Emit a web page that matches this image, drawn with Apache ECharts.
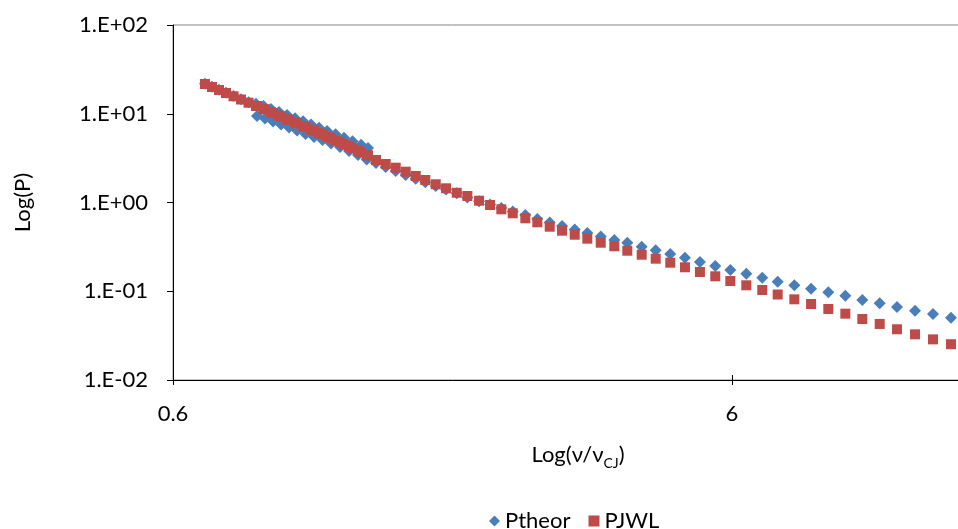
<!DOCTYPE html>
<html>
<head>
<meta charset="utf-8">
<script src="https://cdn.jsdelivr.net/npm/echarts@6/dist/echarts.min.js"></script>
<style>
html,body{margin:0;padding:0;background:#fff;overflow:hidden;width:958px;height:529px;}
#chart{width:1400px;height:529px;}
</style>
</head>
<body>
<div id="chart"></div>
<script>
// Set A (first branch of the table)
var vA = [0.6845,0.7045,0.7252,0.7464,0.7699,0.7940,0.8190,0.8446,0.8711,0.8985,0.9286,0.9598,0.9920,1.0252,1.0596,1.0951,1.1317,1.1720,1.2137,1.2569,1.3018,1.3398];
var ptheorA = [21.75,20.15,18.65,17.25,15.85,14.6,13.5,13.0,12.23,11.31,10.46,9.681,8.887,8.220,7.566,6.964,6.392,5.868,5.359,4.893,4.468,4.113];
var pjwlA = [21.64,20.02,18.52,17.13,15.73,14.47,13.32,12.23,11.31,10.38,9.507,8.659,7.929,7.222,6.612,6.069,5.499,4.970,4.503,4.081,3.687,3.385];
// Set B (second branch of the table)
var vB = [0.848,0.8765,0.906,0.9364,0.9677,1.0002,1.0358,1.0727,1.111,1.1506,1.1939,1.239,1.2857,1.3326,1.3846,1.4409,1.5016,1.5648,1.6306,1.6965,1.7708,1.8476,1.9309,2.0171,2.1166,2.2147,2.3202,2.4317,2.5612,2.6909,2.8319,2.9792,3.1391,3.3062,3.4939,3.695,3.898,4.1359,4.3817,4.653,4.943,5.2576,5.6005,5.9581,6.3637,6.7968,7.242,7.7568,8.3106,8.9214,9.57,10.263,11.025,11.838,12.752,13.732,14.788];
var ptheorB = [9.433,8.841,8.178,7.566,7.000,6.476,5.914,5.471,5.061,4.621,4.220,3.804,3.429,3.051,2.787,2.512,2.264,2.041,1.854,1.689,1.534,1.401,1.270,1.138,1.032,0.9494,0.8672,0.7918,0.7231,0.6518,0.5951,0.5435,0.4963,0.4532,0.4139,0.3780,0.3524,0.3177,0.2893,0.2628,0.2387,0.2136,0.1925,0.1736,0.1577,0.1422,0.1281,0.1167,0.1068,0.0973,0.0891,0.0797,0.0731,0.0665,0.0604,0.0554,0.0503];
var pjwlB = [12.23,11.17,10.20,9.312,8.503,7.766,7.092,6.476,5.914,5.331,4.805,4.331,3.853,3.429,3.012,2.716,2.467,2.224,1.989,1.793,1.604,1.445,1.289,1.184,1.048,0.937,0.838,0.7556,0.6637,0.5981,0.5337,0.4812,0.4337,0.3910,0.3524,0.3210,0.2863,0.2581,0.2327,0.2098,0.1862,0.1648,0.1474,0.1305,0.1167,0.1033,0.0919,0.0811,0.0718,0.0631,0.0559,0.0487,0.0428,0.0373,0.0327,0.0287,0.0253];

var seriesNames = ['Ptheor','PJWL'];
var xTickValues = [0.6, 6, 60];
var xTickLabels = ['0.6', '6', '60'];
var yTickValues = [0.01, 0.1, 1, 10, 100];
var yTickLabels = ['1.E-02', '1.E-01', '1.E+00', '1.E+01', '1.E+02'];
var xTitle = ['Log(\u03bd/\u03bd', 'CJ', ')'];
var yTitle = 'Log(P)';

function pairs(xs, ys) {
  var out = [];
  for (var i = 0; i < xs.length; i++) out.push([xs[i], ys[i]]);
  return out;
}
var ptheorData = pairs(vA, ptheorA).concat(pairs(vB, ptheorB));
var pjwlData = pairs(vA, pjwlA).concat(pairs(vB, pjwlB));

var FONT = 'Lato';
function xLabel(v) {
  for (var i = 0; i < xTickValues.length; i++) if (Math.abs(v - xTickValues[i]) < 1e-6 * xTickValues[i]) return xTickLabels[i];
  return '';
}
var chart = echarts.init(document.getElementById('chart'), null, {renderer: 'canvas'});
chart.setOption({
  animation: false,
  backgroundColor: '#ffffff',
  textStyle: {fontFamily: FONT},
  title: {
    text: '{a|' + xTitle[0] + '}{s|' + xTitle[1] + '}{a|' + xTitle[2] + '}',
    left: 573,
    top: 435,
    textAlign: 'center',
    textStyle: {
      fontWeight: 'normal',
      rich: {
        a: {fontFamily: FONT, fontSize: 22, fontWeight: 'normal', color: '#000', lineHeight: 30, verticalAlign: 'middle'},
        s: {fontFamily: FONT, fontSize: 14, fontWeight: 'normal', color: '#000', lineHeight: 30, verticalAlign: 'bottom', padding: [10, 0, 0, 0]}
      }
    }
  },
  legend: {
    data: seriesNames,
    left: 484,
    top: 505,
    itemWidth: 11,
    itemHeight: 11,
    itemGap: 18,
    textStyle: {fontFamily: FONT, fontSize: 22, color: '#000'}
  },
  grid: {
    left: 173,
    top: 25,
    bottom: 149,
    right: 109,
    show: true,
    borderColor: '#868686',
    borderWidth: 1,
    containLabel: false
  },
  xAxis: [{
    type: 'log',
    logBase: 10,
    min: 0.6,
    max: 60,
    axisLine: {show: true, onZero: false, lineStyle: {color: '#000', width: 1}},
    axisTick: {show: true, length: 5, lineStyle: {color: '#000'}, customValues: xTickValues},
    axisLabel: {
      customValues: xTickValues,
      margin: 23,
      fontFamily: FONT, fontSize: 22, color: '#000',
      formatter: xLabel
    },
    splitLine: {show: false},
    minorTick: {show: false}
  }, {
    type: 'log',
    logBase: 10,
    min: 0.6,
    max: 60,
    position: 'bottom',
    offset: 0,
    axisLine: {show: false},
    axisTick: {show: true, inside: true, length: 5, lineStyle: {color: '#000'}, customValues: xTickValues},
    axisLabel: {show: false},
    splitLine: {show: false},
    minorTick: {show: false}
  }],
  yAxis: {
    type: 'log',
    logBase: 10,
    min: 0.01,
    max: 100,
    name: yTitle,
    nameLocation: 'middle',
    nameGap: 139,
    nameRotate: 90,
    nameTextStyle: {fontFamily: FONT, fontSize: 22, color: '#000'},
    axisLine: {show: true, onZero: false, lineStyle: {color: '#000', width: 1}},
    axisTick: {show: true, length: 6, lineStyle: {color: '#000'}, customValues: yTickValues},
    axisLabel: {
      customValues: yTickValues,
      margin: 25,
      fontFamily: FONT, fontSize: 22, color: '#000',
      formatter: function (v) {
        var e = Math.round(Math.log(v) / Math.LN10);
        return yTickLabels[e + 2];
      }
    },
    splitLine: {show: false}
  },
  series: [
    {
      name: seriesNames[0],
      type: 'scatter',
      symbol: 'diamond',
      symbolSize: 12,
      itemStyle: {color: '#4a7ebb', opacity: 1},
      data: ptheorData,
      z: 2
    },
    {
      name: seriesNames[1],
      type: 'scatter',
      symbol: 'rect',
      symbolSize: 10,
      itemStyle: {color: '#be4b48', opacity: 1},
      data: pjwlData,
      z: 3
    }
  ]
});
</script>
</body>
</html>
